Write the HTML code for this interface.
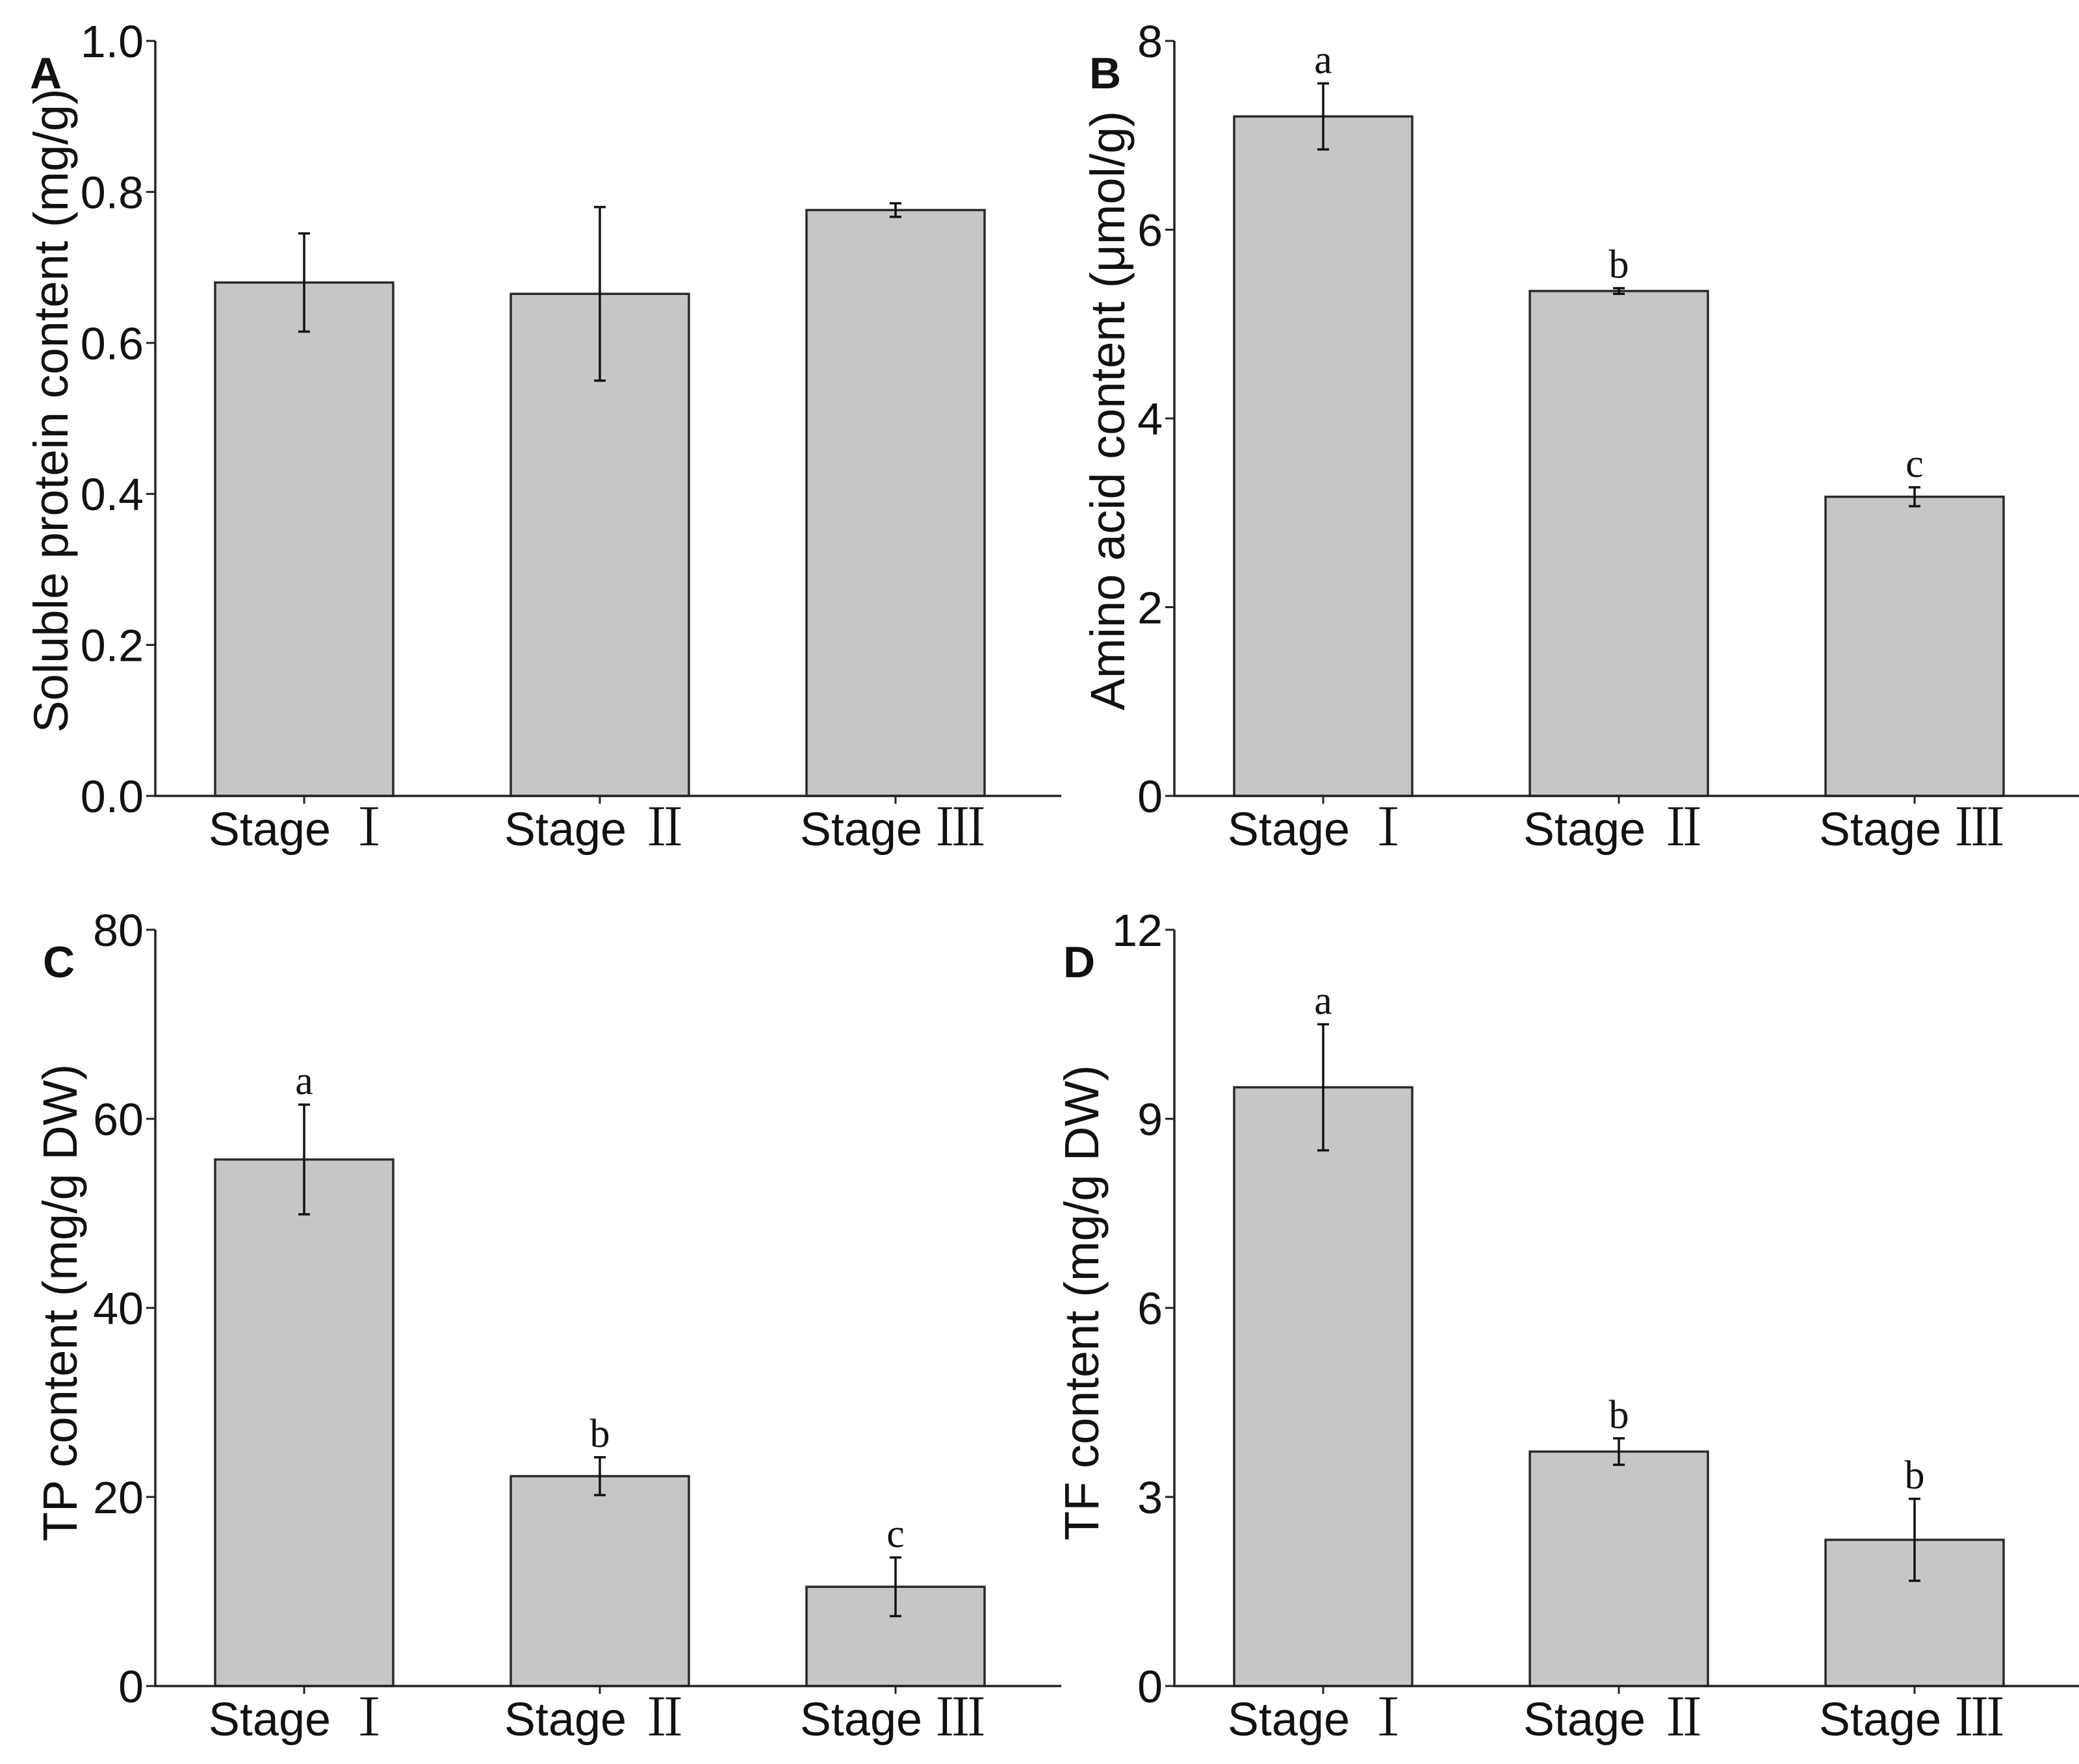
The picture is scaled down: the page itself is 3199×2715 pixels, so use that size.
<!DOCTYPE html>
<html><head><meta charset="utf-8"><style>
html,body{margin:0;padding:0;background:#fff;}
svg{display:block;}
</style></head><body>
<svg id="fig" width="3199" height="2715" viewBox="0 0 3199 2715" xmlns="http://www.w3.org/2000/svg"></svg>
<script>
const categories = ["Stage", "Stage", "Stage"];
const numerals = ["Ⅰ", "Ⅱ", "Ⅲ"];
const valuesA = [0.68, 0.665, 0.776];
const errA = [0.065, 0.115, 0.009];
const lettersA = ["", "", ""];
const ticksA = ["0.0", "0.2", "0.4", "0.6", "0.8", "1.0"];
const valuesB = [7.2, 5.35, 3.17];
const errB = [0.35, 0.03, 0.1];
const lettersB = ["a", "b", "c"];
const ticksB = ["0", "2", "4", "6", "8"];
const valuesC = [55.7, 22.2, 10.5];
const errC = [5.8, 2.0, 3.1];
const lettersC = ["a", "b", "c"];
const ticksC = ["0", "20", "40", "60", "80"];
const valuesD = [9.5, 3.72, 2.32];
const errD = [1.0, 0.21, 0.65];
const lettersD = ["a", "b", "b"];
const ticksD = ["0", "3", "6", "9", "12"];

const NS = "http://www.w3.org/2000/svg";
const svg = document.getElementById("fig");
function mk(tag, attrs, parent, text) {
  const e = document.createElementNS(NS, tag);
  for (const k in attrs) e.setAttribute(k, attrs[k]);
  if (text !== undefined) e.textContent = text;
  parent.appendChild(e);
  return e;
}

function panel(cfg) {
  const g = mk("g", {}, svg);
  
  
  const x0 = cfg.x0, xEnd = cfg.xEnd, yTop = cfg.yTop, yBase = cfg.yBase;
  const maxV = parseFloat(cfg.ticks[cfg.ticks.length - 1]);
  const y = v => yBase - (v / maxV) * (yBase - yTop);
  const barW = 274, gap = 455, firstL = x0 + 92;
  const bx = i => firstL + i * gap;

  cfg.values.forEach((v, i) => {
    const r = mk("rect", {x: bx(i), y: y(v), width: barW, height: yBase - y(v), fill: "#c6c6c6", stroke: "#2a2a2a", "stroke-width": 3.5}, g);
    
    
    const cx = bx(i) + barW / 2;
    const hi = y(v + cfg.err[i]), lo = y(v - cfg.err[i]);
    const eb = mk("path", {d: `M${cx},${hi}V${lo}M${cx-9},${hi}H${cx+9}M${cx-9},${lo}H${cx+9}`, stroke: "#111", "stroke-width": 3.5, fill: "none"}, g);
    
    
    if (cfg.letters[i]) {
      const t = mk("text", {x: cx, y: hi - 16, "text-anchor": "middle", "font-family": "Liberation Serif, serif", "font-size": 62, fill: "#111"}, g, cfg.letters[i]);
      
      
    }
    mk("line", {x1: cx, x2: cx, y1: yBase, y2: yBase + 12, stroke: "#222", "stroke-width": 3}, g);
    const lbl = mk("text", {x: cx - 4, y: yBase + 76, "text-anchor": "middle", "font-family": "Liberation Sans, sans-serif", "font-size": 72, fill: "#111"}, g);
    
    
    mk("tspan", {}, lbl, categories[i] + " ");
    mk("tspan", {"font-family": "Liberation Serif, Noto Serif CJK SC, serif", "font-size": 78}, lbl, numerals[i]);
  });

  const ax = mk("path", {d: `M${x0},${yTop}V${yBase}H${xEnd}`, stroke: "#222", "stroke-width": 3.5, fill: "none"}, g);
  
  
  cfg.ticks.forEach(t => {
    const v = parseFloat(t), yy = y(v);
    mk("line", {x1: x0 - 14, x2: x0, y1: yy, y2: yy, stroke: "#222", "stroke-width": 3}, g);
    const tl = mk("text", {x: x0 - 18, y: yy + 25, "text-anchor": "end", "font-family": "Liberation Sans, sans-serif", "font-size": 70, fill: "#111"}, g, t);
    
    
  });
  const yt = mk("text", {x: 0, y: 0, transform: `translate(${cfg.titleX},${cfg.titleY}) rotate(-90)`, "text-anchor": "middle", "font-family": "Liberation Sans, sans-serif", "font-size": 74, fill: "#111"}, g, cfg.title);
  
  
  const pl = mk("text", {x: cfg.labX, y: cfg.labY, "font-family": "Liberation Sans, sans-serif", "font-size": 68, "font-weight": "bold", fill: "#111"}, g, cfg.id);
  
  
}

panel({id: "A", x0: 239, xEnd: 1633, yTop: 63, yBase: 1225, values: valuesA, err: errA, letters: lettersA, ticks: ticksA,
  title: "Soluble protein content (mg/g)", titleX: 104, titleY: 632, labX: 46, labY: 136});
panel({id: "B", x0: 1807, xEnd: 3199, yTop: 63, yBase: 1225, values: valuesB, err: errB, letters: lettersB, ticks: ticksB,
  title: "Amino acid content (μmol/g)", titleX: 1730, titleY: 632, labX: 1676, labY: 136});
panel({id: "C", x0: 239, xEnd: 1633, yTop: 1431, yBase: 2595, values: valuesC, err: errC, letters: lettersC, ticks: ticksC,
  title: "TP content (mg/g DW)", titleX: 118, titleY: 2005, labX: 66, labY: 1504});
panel({id: "D", x0: 1807, xEnd: 3199, yTop: 1431, yBase: 2595, values: valuesD, err: errD, letters: lettersD, ticks: ticksD,
  title: "TF content (mg/g DW)", titleX: 1690, titleY: 2005, labX: 1636, labY: 1504});
</script>
</body></html>
